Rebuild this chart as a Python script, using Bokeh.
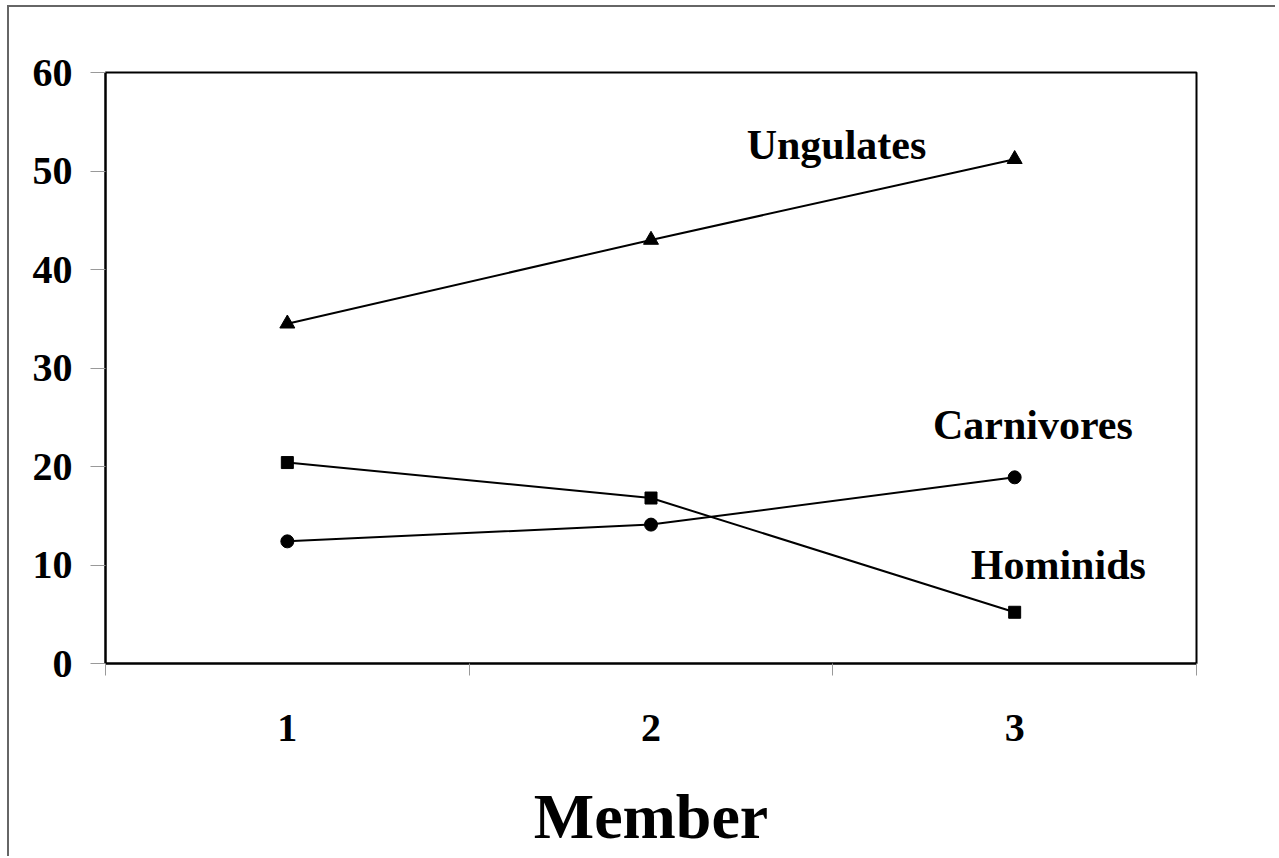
from bokeh.plotting import figure
from bokeh.models import FixedTicker, Label, Range1d
from bokeh.embed import file_html
from bokeh.resources import INLINE

members = [1, 2, 3]
ungulates = [34.5, 43.0, 51.2]
hominids = [20.4, 16.8, 5.2]
carnivores = [12.4, 14.1, 18.9]
y_ticks = [0, 10, 20, 30, 40, 50, 60]
x_ticks = [1, 2, 3]
x_minor = [0.5, 1.5, 2.5, 3.5]
series_labels = ["Ungulates", "Carnivores", "Hominids"]
x_title = "Member"

FONT = "Liberation Serif"

p = figure(width=1268, height=851, output_backend="svg", toolbar_location=None,
           x_range=Range1d(0.5, 3.5), y_range=Range1d(0, 60),
           min_border_left=96, min_border_right=81, min_border_top=65, min_border_bottom=195)
p.styles = {"margin-top": "5px", "margin-left": "7px",
            "border-top": "2px solid #666", "border-left": "2px solid #666"}
p.xgrid.visible = False
p.ygrid.visible = False
p.outline_line_color = "black"
p.outline_line_width = 2
p.outline_line_alpha = 1
p.background_fill_color = "white"
p.border_fill_color = "white"

# y axis
ya = p.yaxis[0]
ya.ticker = FixedTicker(ticks=y_ticks)
ya.axis_line_color = "black"
ya.axis_line_width = 2
ya.major_tick_line_color = "#999999"
ya.major_tick_out = 15
ya.major_tick_in = 0
ya.minor_tick_line_color = None
ya.major_label_text_font = FONT
ya.major_label_text_font_style = "bold"
ya.major_label_text_font_size = "40px"
ya.major_label_text_color = "black"
ya.major_label_standoff = 18

# x axis
xa = p.xaxis[0]
xa.ticker = FixedTicker(ticks=x_ticks, minor_ticks=x_minor)
xa.axis_line_color = "black"
xa.axis_line_width = 2
xa.major_tick_line_color = None
xa.major_tick_out = 0
xa.major_tick_in = 0
xa.minor_tick_line_color = "#999999"
xa.minor_tick_out = 12
xa.minor_tick_in = 0
xa.major_label_text_font = FONT
xa.major_label_text_font_style = "bold"
xa.major_label_text_font_size = "40px"
xa.major_label_text_color = "black"
xa.major_label_standoff = 39
xa.axis_label = x_title
xa.axis_label_text_font = FONT
xa.axis_label_text_font_style = "bold"
xa.axis_label_text_font_size = "64px"
xa.axis_label_text_color = "black"
xa.axis_label_standoff = 37

p.line(members, ungulates, line_color="black", line_width=2)
p.scatter(members, ungulates, marker="triangle", size=15, color="black")
p.line(members, hominids, line_color="black", line_width=2)
p.scatter(members, hominids, marker="square", size=12, color="black")
p.line(members, carnivores, line_color="black", line_width=2)
p.scatter(members, carnivores, marker="circle", size=13, color="black")

label_pos = [(2.51, 52.6), (3.05, 24.2), (3.12, 10.05)]
for txt, (x, y) in zip(series_labels, label_pos):
    p.add_layout(Label(x=x, y=y, text=txt, text_font=FONT, text_font_style="bold",
                       text_font_size="42px", text_color="black",
                       text_align="center", text_baseline="alphabetic"))

open("out.html", "w").write(file_html(p, INLINE))
